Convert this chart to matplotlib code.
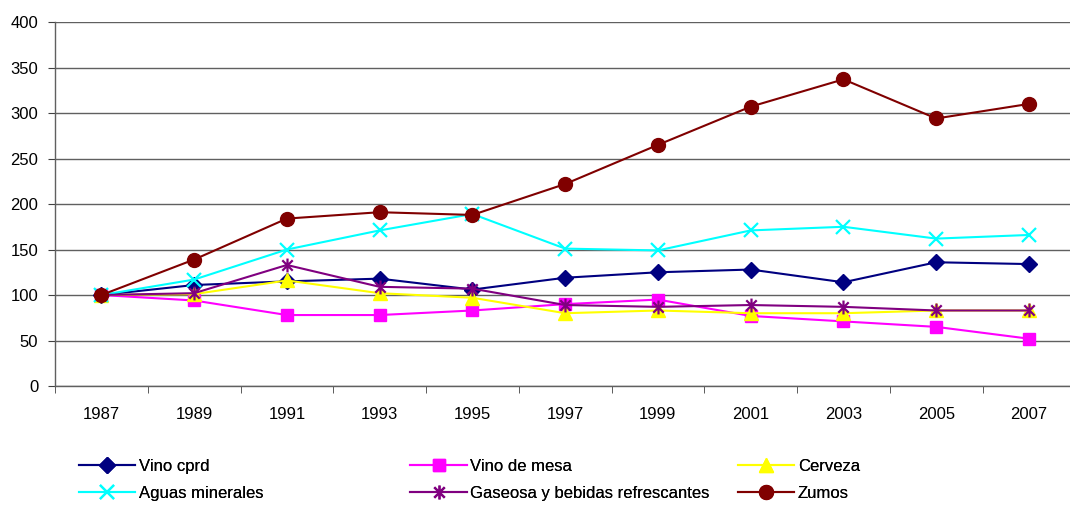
import matplotlib
matplotlib.use("Agg")
import matplotlib.pyplot as plt
from matplotlib.path import Path

# ----------------------------
# DATA (index, 1987 = 100)
# ----------------------------
years = ["1987", "1989", "1991", "1993", "1995", "1997", "1999", "2001", "2003", "2005", "2007"]

vino_cprd = [100, 111, 115, 118, 106, 119, 125, 128, 114, 136, 134]
vino_mesa = [100, 94, 78, 78, 83, 90, 95, 77, 71, 65, 52]
cerveza = [100, 101, 116, 102, 97, 80, 83, 80, 80, 83, 83]
aguas = [100, 117, 150, 171, 189, 151, 149, 171, 175, 162, 166]
gaseosa = [100, 102, 133, 109, 107, 89, 87, 89, 87, 83, 83]
zumos = [100, 139, 184, 191, 188, 222, 265, 307, 337, 294, 310]

labels = ["Vino cprd", "Vino de mesa", "Cerveza", "Aguas minerales",
          "Gaseosa y bebidas refrescantes", "Zumos"]

# ----------------------------
# STYLE
# ----------------------------
plt.rcParams['font.family'] = ['Liberation Sans', 'DejaVu Sans']

# excel-like asterisk: vertical bar plus an x
star = Path([(0, -1), (0, 1), (-0.75, -0.75), (0.75, 0.75), (-0.75, 0.75), (0.75, -0.75)],
            [Path.MOVETO, Path.LINETO, Path.MOVETO, Path.LINETO, Path.MOVETO, Path.LINETO])

fig = plt.figure(figsize=(10.7, 5.05), dpi=100)
ax = fig.add_axes([0.0514, 0.2356, 0.9536, 0.7208])

x = list(range(len(years)))
lw = 1.5
h1, = ax.plot(x, vino_cprd, color='#000080', marker='D', markersize=8, lw=lw, label=labels[0])
h2, = ax.plot(x, vino_mesa, color='#FF00FF', marker='s', markersize=9, lw=lw, label=labels[1])
h3, = ax.plot(x, cerveza, color='#FFFF00', marker='^', markersize=10, lw=lw, label=labels[2])
h4, = ax.plot(x, aguas, color='#00FFFF', marker='x', markersize=10, mew=1.6, lw=lw, label=labels[3])
h5, = ax.plot(x, gaseosa, color='#800080', marker=star, markersize=10, mew=1.6, lw=lw, label=labels[4])
h6, = ax.plot(x, zumos, color='#800000', marker='o', markersize=10, lw=lw, label=labels[5])

ax.set_xlim(-0.5, len(years) - 0.5)
ax.set_ylim(0, 400)
ax.set_yticks(range(0, 401, 50))
ax.set_xticks(x)
ax.set_xticklabels(years)
ax.set_xticks([i - 0.5 for i in range(len(years) + 1)], minor=True)

ax.grid(axis='y', color='#606060', lw=1)
ax.set_axisbelow(True)
for s in ['top', 'right']:
    ax.spines[s].set_visible(False)
for s in ['left', 'bottom']:
    ax.spines[s].set_color('#606060')
    ax.spines[s].set_linewidth(1)

ax.tick_params(axis='x', which='major', length=0, pad=15, labelsize=12)
ax.tick_params(axis='x', which='minor', length=5, direction='out', color='#404040')
ax.tick_params(axis='y', length=5, direction='out', pad=7, labelsize=12, color='#404040')

# ----------------------------
# LEGEND (three columns placed by hand)
# ----------------------------
cols = [([h1, h4], 0.0735), ([h2, h5], 0.3835), ([h3, h6], 0.6895)]
for hs, xpos in cols:
    lg = fig.legend(handles=hs, loc='upper left', bbox_to_anchor=(xpos, 0.0905),
                    bbox_transform=fig.transFigure,
                    frameon=False, handlelength=3.4, handletextpad=0.2,
                    labelspacing=0.72, borderaxespad=0, borderpad=0,
                    prop={'family': ['Liberation Sans Narrow', 'Liberation Sans'], 'size': 12})
    fig.add_artist(lg)

fig.savefig("out.png", dpi=100)
